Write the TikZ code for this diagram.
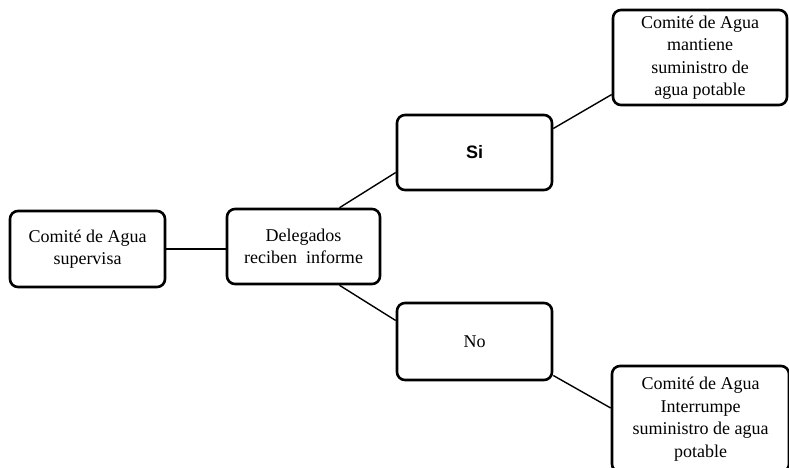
\documentclass[tikz,border=0pt]{standalone}
\usepackage{fontspec}
\setmainfont{Liberation Serif}
\newfontfamily\sifont{Liberation Sans}
\begin{document}
\begin{tikzpicture}[x=1pt,y=-1pt,
  stepbox/.style={draw, line width=2.6pt, rounded corners=8pt, align=center,
    font=\fontsize{18}{22.5}\selectfont, inner sep=0pt},
  link/.style={line width=1.4pt}]
\useasboundingbox (0,0) rectangle (789,467);
% boxes of the decision tree
\node[stepbox, minimum width=155pt, minimum height=76pt] (sup) at (87.5,249) {Comité de Agua\\supervisa};
\node[stepbox, minimum width=153pt, minimum height=75pt] (del) at (303.5,246.5) {Delegados\\reciben\ \ informe};
\node[stepbox, minimum width=155pt, minimum height=75pt] (si) at (474.5,152.5) {\sifont\bfseries Si};
\node[stepbox, minimum width=155pt, minimum height=77pt] (no) at (474.5,341.5) {No};
\node[stepbox, minimum width=174pt, minimum height=95pt] (keep) at (700,57.5) {Comité de Agua\\mantiene\\suministro de\\agua potable};
\node[stepbox, minimum width=177pt, minimum height=106pt] (stop) at (700.5,419) {Comité de Agua\\Interrumpe\\suministro de agua\\potable};
% connectors
\draw[link] (sup.east) -- (sup.east -| del.west);
\draw[link] ([xshift=36pt]del.north) -- ([yshift=-20pt]si.west);
\draw[link] ([xshift=36pt]del.south) -- ([yshift=21pt]no.west);
\draw[link] ([yshift=24pt]si.east) -- ([yshift=-37pt]keep.west);
\draw[link] ([yshift=-34pt]no.east) -- ([yshift=11pt]stop.west);
\end{tikzpicture}
\end{document}
